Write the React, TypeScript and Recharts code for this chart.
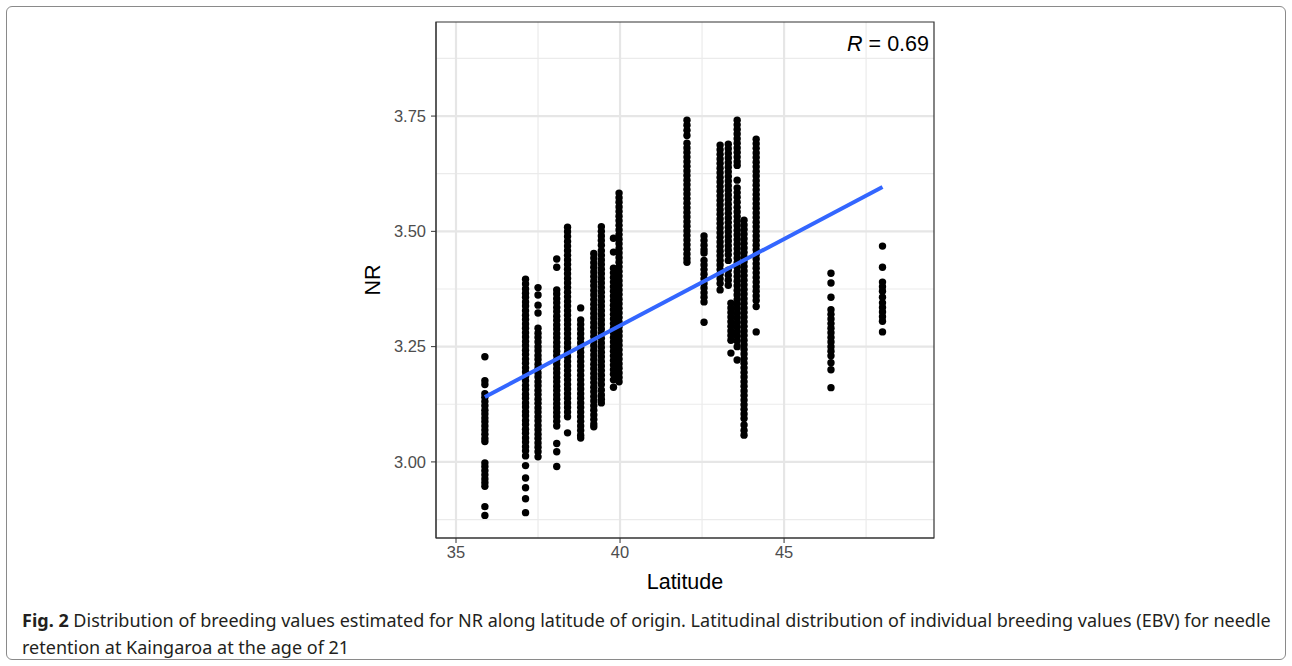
import React from "react";
import {
  ScatterChart,
  Scatter,
  XAxis,
  YAxis,
  CartesianGrid,
  ReferenceArea,
} from "recharts";

// latitude of origin for each seed-lot column
const latitudes = [
  35.88, 37.12, 37.5, 38.07, 38.4, 38.8, 39.2, 39.43, 39.8, 39.97,
  42.04, 42.56, 43.05, 43.3, 43.38, 43.57, 43.78, 44.15, 46.43, 48.0,
];

// NR breeding values per column
const nr3588 = [3.228, 3.176, 3.168, 3.148, 3.14, 3.131, 3.122, 3.112, 3.104, 3.095, 3.087, 3.078, 3.069, 3.06, 3.051, 3.044, 2.998, 2.99, 2.981, 2.972, 2.963, 2.955, 2.947, 2.903, 2.884];
const nr3712 = [3.396, 3.386, 3.375, 3.366, 3.357, 3.347, 3.338, 3.328, 3.318, 3.309, 3.299, 3.29, 3.28, 3.271, 3.261, 3.252, 3.242, 3.233, 3.223, 3.214, 3.204, 3.195, 3.185, 3.176, 3.166, 3.157, 3.147, 3.138, 3.128, 3.119, 3.109, 3.1, 3.09, 3.081, 3.071, 3.062, 3.052, 3.043, 3.033, 3.024, 3.013, 2.992, 2.965, 2.944, 2.92, 2.89];
const nr3750 = [3.378, 3.362, 3.34, 3.323, 3.29, 3.279, 3.27, 3.26, 3.25, 3.241, 3.231, 3.222, 3.212, 3.203, 3.193, 3.184, 3.174, 3.165, 3.155, 3.146, 3.136, 3.127, 3.117, 3.108, 3.098, 3.089, 3.079, 3.07, 3.06, 3.051, 3.041, 3.032, 3.022, 3.011];
const nr3807 = [3.44, 3.422, 3.373, 3.364, 3.354, 3.345, 3.335, 3.326, 3.316, 3.307, 3.297, 3.288, 3.278, 3.269, 3.259, 3.25, 3.24, 3.231, 3.221, 3.212, 3.202, 3.193, 3.183, 3.174, 3.164, 3.155, 3.145, 3.136, 3.126, 3.117, 3.107, 3.098, 3.088, 3.078, 3.04, 3.022, 2.99];
const nr3840 = [3.509, 3.499, 3.489, 3.478, 3.468, 3.458, 3.448, 3.438, 3.428, 3.418, 3.408, 3.398, 3.388, 3.378, 3.368, 3.358, 3.348, 3.338, 3.328, 3.318, 3.308, 3.298, 3.288, 3.278, 3.268, 3.258, 3.248, 3.238, 3.228, 3.218, 3.208, 3.198, 3.188, 3.178, 3.168, 3.158, 3.148, 3.138, 3.128, 3.118, 3.108, 3.098, 3.063];
const nr3880 = [3.334, 3.308, 3.298, 3.288, 3.278, 3.268, 3.258, 3.248, 3.238, 3.228, 3.218, 3.208, 3.198, 3.188, 3.178, 3.168, 3.158, 3.148, 3.138, 3.128, 3.118, 3.108, 3.098, 3.088, 3.078, 3.068, 3.058, 3.052];
const nr3920 = [3.452, 3.442, 3.432, 3.422, 3.412, 3.402, 3.392, 3.382, 3.372, 3.362, 3.352, 3.342, 3.332, 3.322, 3.312, 3.302, 3.292, 3.282, 3.272, 3.262, 3.252, 3.242, 3.232, 3.222, 3.212, 3.202, 3.192, 3.182, 3.172, 3.162, 3.152, 3.142, 3.132, 3.122, 3.112, 3.102, 3.092, 3.082, 3.076];
const nr3943 = [3.51, 3.5, 3.49, 3.48, 3.47, 3.458, 3.448, 3.438, 3.428, 3.418, 3.408, 3.398, 3.388, 3.378, 3.368, 3.358, 3.348, 3.338, 3.328, 3.318, 3.308, 3.298, 3.288, 3.278, 3.268, 3.258, 3.248, 3.238, 3.228, 3.218, 3.208, 3.198, 3.188, 3.178, 3.168, 3.156, 3.145, 3.136, 3.128];
const nr3980 = [3.485, 3.455, 3.42, 3.41, 3.4, 3.39, 3.38, 3.37, 3.36, 3.35, 3.34, 3.33, 3.32, 3.31, 3.3, 3.29, 3.28, 3.27, 3.26, 3.25, 3.24, 3.23, 3.22, 3.21, 3.2, 3.19, 3.178, 3.162];
const nr3997 = [3.583, 3.573, 3.563, 3.553, 3.543, 3.533, 3.523, 3.513, 3.503, 3.493, 3.483, 3.473, 3.463, 3.453, 3.443, 3.433, 3.423, 3.413, 3.403, 3.393, 3.383, 3.373, 3.363, 3.353, 3.343, 3.333, 3.323, 3.313, 3.303, 3.293, 3.283, 3.273, 3.263, 3.253, 3.243, 3.233, 3.223, 3.213, 3.203, 3.193, 3.183, 3.174];
const nr4204 = [3.741, 3.73, 3.719, 3.708, 3.691, 3.681, 3.671, 3.661, 3.651, 3.641, 3.631, 3.621, 3.611, 3.601, 3.591, 3.581, 3.571, 3.561, 3.551, 3.541, 3.531, 3.521, 3.511, 3.501, 3.491, 3.481, 3.471, 3.461, 3.451, 3.441, 3.433];
const nr4256 = [3.49, 3.48, 3.47, 3.46, 3.453, 3.437, 3.427, 3.417, 3.407, 3.397, 3.387, 3.377, 3.367, 3.357, 3.347, 3.303];
const nr4305 = [3.687, 3.677, 3.667, 3.657, 3.647, 3.637, 3.627, 3.617, 3.607, 3.597, 3.587, 3.577, 3.567, 3.557, 3.547, 3.537, 3.527, 3.517, 3.507, 3.497, 3.487, 3.477, 3.467, 3.457, 3.447, 3.437, 3.427, 3.417, 3.407, 3.397, 3.387, 3.373];
const nr4330 = [3.689, 3.679, 3.669, 3.659, 3.649, 3.639, 3.629, 3.619, 3.609, 3.599, 3.589, 3.579, 3.569, 3.559, 3.549, 3.539, 3.529, 3.519, 3.509, 3.499, 3.489, 3.479, 3.469, 3.459, 3.449, 3.437, 3.416, 3.405, 3.394, 3.383];
const nr4338 = [3.344, 3.334, 3.324, 3.314, 3.304, 3.294, 3.284, 3.274, 3.264, 3.236];
const nr4357 = [3.741, 3.731, 3.721, 3.711, 3.701, 3.691, 3.681, 3.671, 3.661, 3.651, 3.643, 3.611, 3.594, 3.584, 3.574, 3.563, 3.552, 3.542, 3.532, 3.522, 3.512, 3.502, 3.492, 3.482, 3.472, 3.462, 3.452, 3.442, 3.432, 3.422, 3.412, 3.402, 3.392, 3.382, 3.372, 3.362, 3.352, 3.342, 3.332, 3.322, 3.312, 3.302, 3.292, 3.282, 3.272, 3.262, 3.25, 3.221];
const nr4378 = [3.524, 3.514, 3.504, 3.494, 3.484, 3.474, 3.464, 3.454, 3.444, 3.434, 3.424, 3.414, 3.404, 3.394, 3.384, 3.374, 3.364, 3.354, 3.344, 3.334, 3.324, 3.314, 3.304, 3.294, 3.284, 3.274, 3.264, 3.254, 3.244, 3.234, 3.224, 3.214, 3.204, 3.194, 3.184, 3.174, 3.164, 3.154, 3.144, 3.134, 3.124, 3.114, 3.104, 3.094, 3.08, 3.068, 3.058];
const nr4415 = [3.7, 3.69, 3.68, 3.67, 3.66, 3.65, 3.64, 3.63, 3.62, 3.61, 3.6, 3.59, 3.58, 3.57, 3.56, 3.55, 3.54, 3.53, 3.52, 3.51, 3.5, 3.49, 3.48, 3.47, 3.46, 3.45, 3.44, 3.43, 3.42, 3.41, 3.4, 3.39, 3.38, 3.37, 3.36, 3.35, 3.337, 3.282];
const nr4643 = [3.409, 3.388, 3.357, 3.33, 3.32, 3.31, 3.3, 3.29, 3.28, 3.27, 3.26, 3.25, 3.24, 3.23, 3.215, 3.2, 3.161];
const nr4800 = [3.468, 3.422, 3.39, 3.38, 3.37, 3.357, 3.345, 3.335, 3.325, 3.315, 3.305, 3.282];

const nrColumns = [
  nr3588, nr3712, nr3750, nr3807, nr3840, nr3880, nr3920, nr3943, nr3980, nr3997,
  nr4204, nr4256, nr4305, nr4330, nr4338, nr4357, nr4378, nr4415, nr4643, nr4800,
];

// linear fit (geom_smooth, method = "lm")
const fitLat = [35.88, 48.0];
const fitNr = [3.141, 3.596];

const xTicks = [35, 40, 45];
const yTicks = [3.0, 3.25, 3.5, 3.75];
const xMinor = [37.5, 42.5, 47.5];
const yMinor = [2.875, 3.125, 3.375, 3.625, 3.875];

const X_DOMAIN: [number, number] = [34.39, 49.57];
const Y_DOMAIN: [number, number] = [2.835, 3.954];

const points = latitudes.flatMap((lat, i) =>
  nrColumns[i].map((nr) => ({ lat, nr }))
);
const fitData = fitLat.map((lat, i) => ({ lat, nr: fitNr[i] }));

const FONT = "Liberation Sans, Arial, sans-serif";

const tickStyle = {
  fontSize: 16.5,
  fill: "#4D4D4D",
  fontFamily: FONT,
};

const Dot = (props: any) => (
  <circle cx={props.cx} cy={props.cy} r={3.7} fill="#000000" />
);

export default function App() {
  return (
    <div
      style={{
        position: "absolute",
        left: 0,
        top: 0,
        width: 1292,
        height: 666,
        background: "#fff",
        fontFamily: FONT,
      }}
    >
      <div
        style={{
          position: "absolute",
          left: 6,
          top: 6,
          width: 1280,
          height: 654,
          border: "1px solid #8a8a8a",
          borderRadius: 6,
          boxSizing: "border-box",
        }}
      />
      <div style={{ position: "absolute", left: 0, top: 0 }}>
        <ScatterChart
          width={1292}
          height={600}
          margin={{ top: 22, right: 358, bottom: 12, left: 336 }}
        >
          <CartesianGrid
            stroke="#EBEBEB"
            strokeWidth={1.2}
            verticalValues={xMinor}
            horizontalValues={yMinor}
          />
          <CartesianGrid
            stroke="#E6E6E6"
            strokeWidth={2.2}
            verticalValues={xTicks}
            horizontalValues={yTicks}
          />
          <XAxis
            type="number"
            dataKey="lat"
            domain={X_DOMAIN}
            allowDataOverflow
            ticks={xTicks}
            height={50}
            tick={tickStyle}
            tickSize={5}
            tickMargin={3}
            stroke="#333333"
            tickLine={{ stroke: "#333333" }}
            label={{
              value: "Latitude",
              position: "insideBottom",
              offset: -1,
              style: { fontSize: 21.5, fill: "#000", fontFamily: FONT },
            }}
          />
          <YAxis
            type="number"
            dataKey="nr"
            domain={Y_DOMAIN}
            allowDataOverflow
            ticks={yTicks}
            width={100}
            tick={tickStyle}
            tickSize={5}
            tickMargin={5}
            tickFormatter={(v: number) => v.toFixed(2)}
            stroke="#333333"
            tickLine={{ stroke: "#333333" }}
            label={{
              value: "NR",
              angle: -90,
              position: "insideLeft",
              offset: 36,
              style: { fontSize: 21.5, fill: "#000", fontFamily: FONT, textAnchor: "middle" },
            }}
          />
          <Scatter
            data={points}
            shape={Dot}
            isAnimationActive={false}
          />
          <Scatter
            data={fitData}
            line={{ stroke: "#3366FF", strokeWidth: 4 }}
            shape={() => null}
            isAnimationActive={false}
          />
          <ReferenceArea
            x1={X_DOMAIN[0]}
            x2={X_DOMAIN[1]}
            y1={Y_DOMAIN[0]}
            y2={Y_DOMAIN[1]}
            fill="none"
            fillOpacity={0}
            stroke="#333333"
            strokeWidth={1.2}
          />
        </ScatterChart>
      </div>
      <div
        style={{
          position: "absolute",
          right: 1292 - 929,
          top: 32,
          fontSize: 21.5,
          color: "#000",
        }}
      >
        <i>R</i> = 0.69
      </div>
      <div
        style={{
          position: "absolute",
          left: 22,
          top: 607,
          width: 1265,
          fontFamily: "Noto Sans, sans-serif",
          fontSize: 18,
          lineHeight: "27px",
          color: "#231f20",
          whiteSpace: "nowrap",
        }}
      >
        <b>Fig. 2</b> Distribution of breeding values estimated for NR along latitude of origin. Latitudinal distribution of individual breeding values (EBV) for needle
        <br />
        retention at Kaingaroa at the age of 21
      </div>
    </div>
  );
}
